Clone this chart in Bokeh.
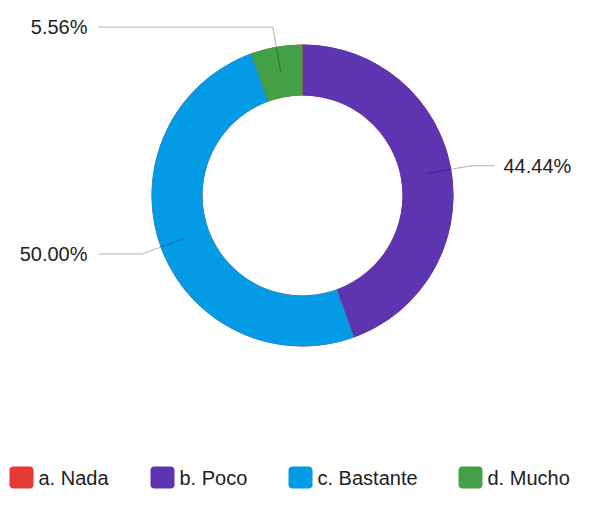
import numpy as np
from bokeh.plotting import figure
from bokeh.models import Range1d, ColumnDataSource
from bokeh.core.properties import value
from bokeh.embed import file_html
from bokeh.resources import INLINE

categories = ["a. Nada", "b. Poco", "c. Bastante", "d. Mucho"]
counts = [0, 8, 9, 1]
colors = ["#e53935", "#5e35b1", "#039be5", "#43a047"]

W, H = 573, 490
p = figure(width=W, height=H, output_backend="svg", toolbar_location=None,
           x_range=Range1d(0, W), y_range=Range1d(0, H), min_border=0)
p.axis.visible = False
p.grid.visible = False
p.outline_line_color = None

def X(rx):
    return rx

def Y(ry):
    return H - ry

cx, cy = X(302), Y(195)
r_out, r_in = 151, 100
total = sum(counts)
fracs = [c / total for c in counts]

# angles: start at top, go clockwise
starts, ends, mids = [], [], []
a = np.pi / 2
for f in fracs:
    e = a - 2 * np.pi * f
    starts.append(e)
    ends.append(a)
    mids.append((a + e) / 2)
    a = e

src = ColumnDataSource(dict(start=starts, end=ends, color=colors))
p.annular_wedge(x=cx, y=cy, inner_radius=r_in, outer_radius=r_out,
                start_angle="start", end_angle="end", fill_color="color",
                line_color=None, source=src)

font = value("Liberation Sans")
fs = "20px"
r_mid, r_elb = 126, 171
for i, f in enumerate(fracs):
    if counts[i] == 0:
        continue
    m = mids[i]
    x0, y0 = cx + r_mid * np.cos(m), cy + r_mid * np.sin(m)
    x1, y1 = cx + r_elb * np.cos(m), cy + r_elb * np.sin(m)
    right = np.cos(m) > 0
    x2 = X(494) if right else X(98)
    p.line([x0, x1, x2], [y0, y1, y1], line_color="#000000", line_alpha=0.3,
           line_width=1)
    lbl = f"{f * 100:.2f}%"
    p.text(x=[x2 + 9 if right else x2 - 11], y=[y1], text=[lbl],
           text_font=font, text_font_size=fs, text_color="#222222",
           text_align="left" if right else "right", text_baseline="middle")

# legend (shifted up to fit the frame)
leg_sq_x = [X(21), X(162), X(300), X(470)]
leg_y = Y(477)
for i, cat in enumerate(categories):
    p.rect(x=[leg_sq_x[i]], y=[leg_y], width=24, height=22,
           fill_color=colors[i], line_color=None, border_radius=4)
    p.text(x=[leg_sq_x[i] + 17], y=[leg_y], text=[cat], text_font=font,
           text_font_size=fs, text_color="#222222",
           text_align="left", text_baseline="middle")

open("out.html", "w").write(file_html(p, INLINE))
